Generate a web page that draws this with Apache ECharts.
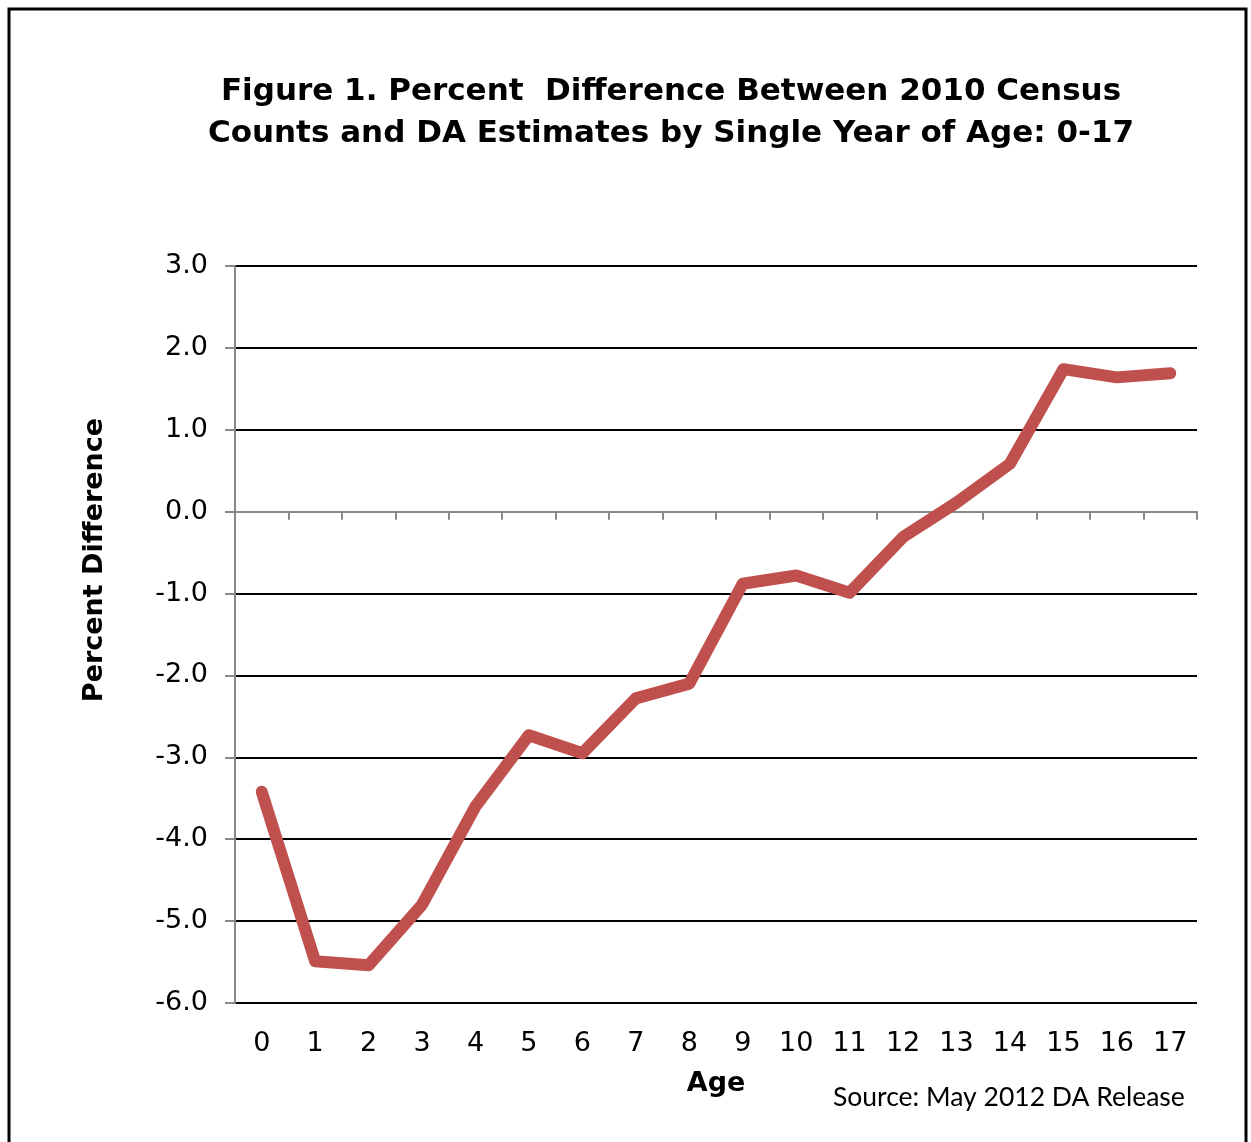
<!DOCTYPE html>
<html>
<head>
<meta charset="utf-8">
<script src="https://cdn.jsdelivr.net/npm/echarts@6/dist/echarts.min.js"></script>
<style>
html,body{margin:0;padding:0;background:#fff;}
#chart{width:1251px;height:1142px;}
</style>
</head>
<body>
<div id="chart"></div>
<script>
const titleText = 'Figure 1. Percent  Difference Between 2010 Census\nCounts and DA Estimates by Single Year of Age: 0-17';
const ages = ['0','1','2','3','4','5','6','7','8','9','10','11','12','13','14','15','16','17'];
const pctDiff = [-3.42, -5.49, -5.54, -4.80, -3.60, -2.73, -2.95, -2.28, -2.10, -0.88, -0.78, -0.99, -0.31, 0.11, 0.585, 1.74, 1.64, 1.69];
const yMin = -6, yMax = 3, yStep = 1;
const yTitle = 'Percent Difference';
const xTitle = 'Age';
const sourceText = 'Source: May 2012 DA Release';

const FONT = 'DejaVu Sans';
const chart = echarts.init(document.getElementById('chart'), null, {renderer: 'canvas'});
chart.setOption({
  animation: false,
  backgroundColor: '#fff',
  title: [{
    text: titleText,
    left: 666, top: 66, textAlign: 'center',
    textStyle: {fontFamily: FONT, fontWeight: 'bold', fontSize: 31, lineHeight: 42, color: '#000'}
  }, {
    text: sourceText,
    left: 828, top: 1079,
    textStyle: {fontFamily: 'Lato', fontWeight: 'normal', fontSize: 26.5, color: '#000'}
  }],
  graphic: [{
    type: 'rect', shape: {x: 9, y: 9, width: 1237, height: 1160},
    style: {fill: 'none', stroke: '#000', lineWidth: 3}, silent: true
  }, {
    type: 'text', x: 95, y: 560, rotation: Math.PI / 2,
    style: {text: yTitle, fontFamily: FONT, fontWeight: 'bold', fontSize: 27, fill: '#000',
      align: 'center', verticalAlign: 'middle'},
    silent: true
  }],
  grid: {left: 235, right: 54, top: 266, bottom: 139, containLabel: false},
  xAxis: [{
    type: 'category', data: ages, boundaryGap: true,
    axisLine: {show: false, onZero: false},
    axisTick: {show: false},
    axisLabel: {fontFamily: FONT, fontSize: 27, color: '#000', margin: 27, interval: 0},
    name: xTitle, nameLocation: 'middle', nameGap: 67,
    nameTextStyle: {fontFamily: FONT, fontWeight: 'bold', fontSize: 27, color: '#000'}
  }, {
    type: 'category', data: ages, boundaryGap: true, position: 'bottom',
    axisLine: {show: true, onZero: true, lineStyle: {color: '#888', width: 2}},
    axisTick: {show: true, length: 8, interval: 0, lineStyle: {color: '#888', width: 2}},
    axisLabel: {show: false}
  }],
  yAxis: {
    type: 'value', min: yMin, max: yMax, interval: yStep,
    axisLine: {show: true, lineStyle: {color: '#888', width: 2}},
    axisTick: {show: true, length: 10, lineStyle: {color: '#888', width: 2}},
    splitLine: {show: true, lineStyle: {color: '#000', width: 2}},
    axisLabel: {fontFamily: FONT, fontSize: 27, color: '#000', margin: 27,
      formatter: v => v.toFixed(1)}
  },
  series: [{
    type: 'line', xAxisIndex: 0, data: pctDiff,
    symbol: 'none', smooth: false,
    lineStyle: {color: '#C0504D', width: 12, cap: 'round', join: 'round'},
    z: 5
  }]
});
</script>
</body>
</html>
